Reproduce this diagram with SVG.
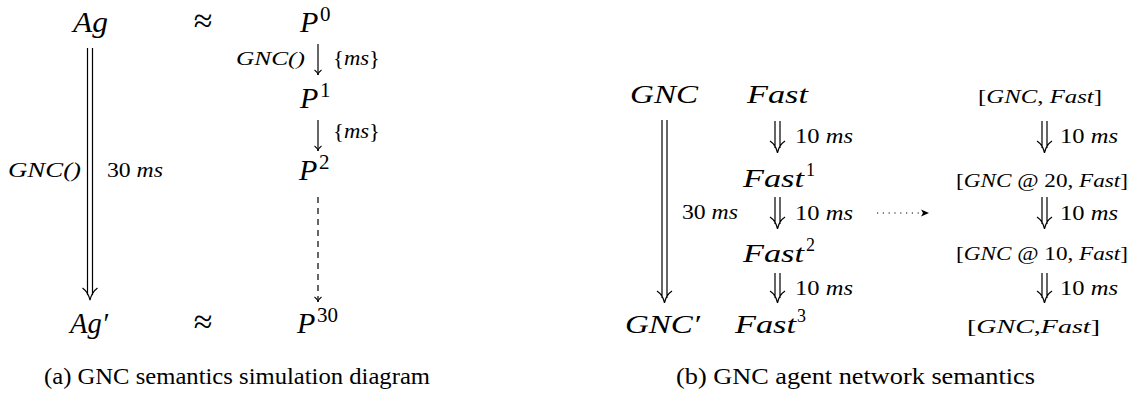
<svg xmlns="http://www.w3.org/2000/svg" width="1135" height="394" viewBox="0 0 1135 394">
<style>
text{font-family:'Liberation Serif','Times New Roman',Times,'DejaVu Serif',serif;fill:#000}
.m{font-style:italic}
.big{font-size:30px}
.mid{font-size:25px}
.sm{font-size:18px}
.lb{font-size:20px}
.sup{font-size:21px}
.supm{font-size:18px}
.cap{font-size:23px}
.ax{font-size:34px}
.ln{stroke:#000;stroke-width:1.2;fill:none}
</style>
<defs>
<marker id="ah" markerWidth="8" markerHeight="8" refX="6" refY="4" orient="auto" markerUnits="userSpaceOnUse">
<path d="M1,0.5 Q3,3.5 6,4 Q3,4.5 1,7.5" fill="none" stroke="#000" stroke-width="1.1"/>
</marker>
<marker id="st" markerWidth="10" markerHeight="8" refX="8" refY="4" orient="auto" markerUnits="userSpaceOnUse">
<path d="M0,0.5 L8,4 L0,7.5 L2,4 Z" fill="#000"/>
</marker>
</defs>

<g id="panel-a">
<g id="node-Ag"><text class="m big" x="73" y="32" textLength="35" lengthAdjust="spacingAndGlyphs">Ag</text></g>
<g id="approx-top"><text class="ax" x="203" y="32" text-anchor="middle">≈</text></g>
<g id="node-P0"><text class="m big" x="300" y="32">P</text><text class="sup" x="320" y="21">0</text></g>
<g id="node-P1"><text class="m big" x="300" y="108">P</text><text class="sup" x="320" y="97">1</text></g>
<g id="node-P2"><text class="m big" x="299" y="180">P</text><text class="sup" x="319" y="169">2</text></g>
<g id="node-Agp"><text class="m big" x="70" y="333" textLength="38" lengthAdjust="spacingAndGlyphs">Ag′</text></g>
<g id="approx-bot"><text class="ax" x="203" y="333" text-anchor="middle">≈</text></g>
<g id="node-P30"><text class="m big" x="297" y="333">P</text><text class="sup" x="317" y="322">30</text></g>

<g id="labels-a">
<text class="m sm" x="236" y="65" textLength="69" lengthAdjust="spacingAndGlyphs">GNC()</text>
<text class="lb" x="333" y="65" textLength="47" lengthAdjust="spacingAndGlyphs">{<tspan class="m">ms</tspan>}</text>
<text class="lb" x="333" y="138" textLength="47" lengthAdjust="spacingAndGlyphs">{<tspan class="m">ms</tspan>}</text>
<text class="m lb" x="8" y="177" textLength="73" lengthAdjust="spacingAndGlyphs">GNC()</text>
<text class="lb" x="107" y="177" textLength="56" lengthAdjust="spacingAndGlyphs">30 <tspan class="m">ms</tspan></text>
</g>
<text class="cap" x="44" y="384" textLength="386" lengthAdjust="spacingAndGlyphs">(a) GNC semantics simulation diagram</text>
</g>

<g id="panel-b">
<g id="node-GNC"><text class="m mid" x="630" y="103" textLength="68" lengthAdjust="spacingAndGlyphs">GNC</text></g>
<g id="node-Fast"><text class="m mid" x="747" y="103" textLength="61" lengthAdjust="spacingAndGlyphs">Fast</text></g>
<g id="node-Fast1"><text class="m mid" x="743" y="187" textLength="61" lengthAdjust="spacingAndGlyphs">Fast</text><text class="supm" x="806" y="176">1</text></g>
<g id="node-Fast2"><text class="m mid" x="743" y="262" textLength="61" lengthAdjust="spacingAndGlyphs">Fast</text><text class="supm" x="806" y="251">2</text></g>
<g id="node-GNCp"><text class="m mid" x="625" y="333" textLength="75" lengthAdjust="spacingAndGlyphs">GNC′</text></g>
<g id="node-Fast3"><text class="m mid" x="735" y="333" textLength="61" lengthAdjust="spacingAndGlyphs">Fast</text><text class="supm" x="797" y="322">3</text></g>

<g id="node-net0"><text class="sm" x="978" y="103" textLength="124" lengthAdjust="spacingAndGlyphs">[<tspan class="m">GNC</tspan>, <tspan class="m">Fast</tspan>]</text></g>
<g id="node-net1"><text class="sm" x="956" y="187" textLength="172" lengthAdjust="spacingAndGlyphs">[<tspan class="m">GNC</tspan> @ 20, <tspan class="m">Fast</tspan>]</text></g>
<g id="node-net2"><text class="sm" x="956" y="260" textLength="172" lengthAdjust="spacingAndGlyphs">[<tspan class="m">GNC</tspan> @ 10, <tspan class="m">Fast</tspan>]</text></g>
<g id="node-net3"><text class="sm" x="967" y="333" textLength="133" lengthAdjust="spacingAndGlyphs">[<tspan class="m">GNC</tspan>,<tspan class="m">Fast</tspan>]</text></g>

<g id="labels-b">
<text class="lb" x="682" y="219" textLength="56" lengthAdjust="spacingAndGlyphs">30 <tspan class="m">ms</tspan></text>
<text class="lb" x="795" y="143" textLength="58" lengthAdjust="spacingAndGlyphs">10 <tspan class="m">ms</tspan></text>
<text class="lb" x="795" y="220" textLength="58" lengthAdjust="spacingAndGlyphs">10 <tspan class="m">ms</tspan></text>
<text class="lb" x="795" y="295" textLength="58" lengthAdjust="spacingAndGlyphs">10 <tspan class="m">ms</tspan></text>
<text class="lb" x="1060" y="143" textLength="58" lengthAdjust="spacingAndGlyphs">10 <tspan class="m">ms</tspan></text>
<text class="lb" x="1060" y="220" textLength="58" lengthAdjust="spacingAndGlyphs">10 <tspan class="m">ms</tspan></text>
<text class="lb" x="1060" y="295" textLength="58" lengthAdjust="spacingAndGlyphs">10 <tspan class="m">ms</tspan></text>
</g>
<text class="cap" x="676" y="384" textLength="359" lengthAdjust="spacingAndGlyphs">(b) GNC agent network semantics</text>
</g>

<g id="connectors">
<line class="ln" x1="318" y1="44" x2="318" y2="75" marker-end="url(#ah)"/>
<line class="ln" x1="318" y1="120" x2="318" y2="151" marker-end="url(#ah)"/>
<line class="ln" x1="318" y1="197" x2="318" y2="302" stroke-dasharray="6,5" marker-end="url(#ah)"/>
<line x1="877" y1="213" x2="929" y2="213" stroke="#000" stroke-width="1.2" stroke-dasharray="1.2,4.6" marker-end="url(#st)"/>
<path class="ln" d="M87.5,48 V295 M92.5,48 V295 M82.5,288 Q88,292 90,300 Q92,292 97.5,288"/>
<path class="ln" d="M662,120 V298 M667,120 V298 M657,291 Q663,295 664.5,303 Q666,295 672,291"/>
<path class="ln" d="M775,121 V148 M780,121 V148 M770,141 Q776,145 777.5,153 Q779,145 785,141"/>
<path class="ln" d="M775,197 V224 M780,197 V224 M770,217 Q776,221 777.5,229 Q779,221 785,217"/>
<path class="ln" d="M775,273 V298 M780,273 V298 M770,291 Q776,295 777.5,303 Q779,295 785,291"/>
<path class="ln" d="M1042,121 V148 M1047,121 V148 M1037,141 Q1043,145 1044.5,153 Q1046,145 1052,141"/>
<path class="ln" d="M1042,197 V224 M1047,197 V224 M1037,217 Q1043,221 1044.5,229 Q1046,221 1052,217"/>
<path class="ln" d="M1042,273 V298 M1047,273 V298 M1037,291 Q1043,295 1044.5,303 Q1046,295 1052,291"/>
</g>
</svg>
